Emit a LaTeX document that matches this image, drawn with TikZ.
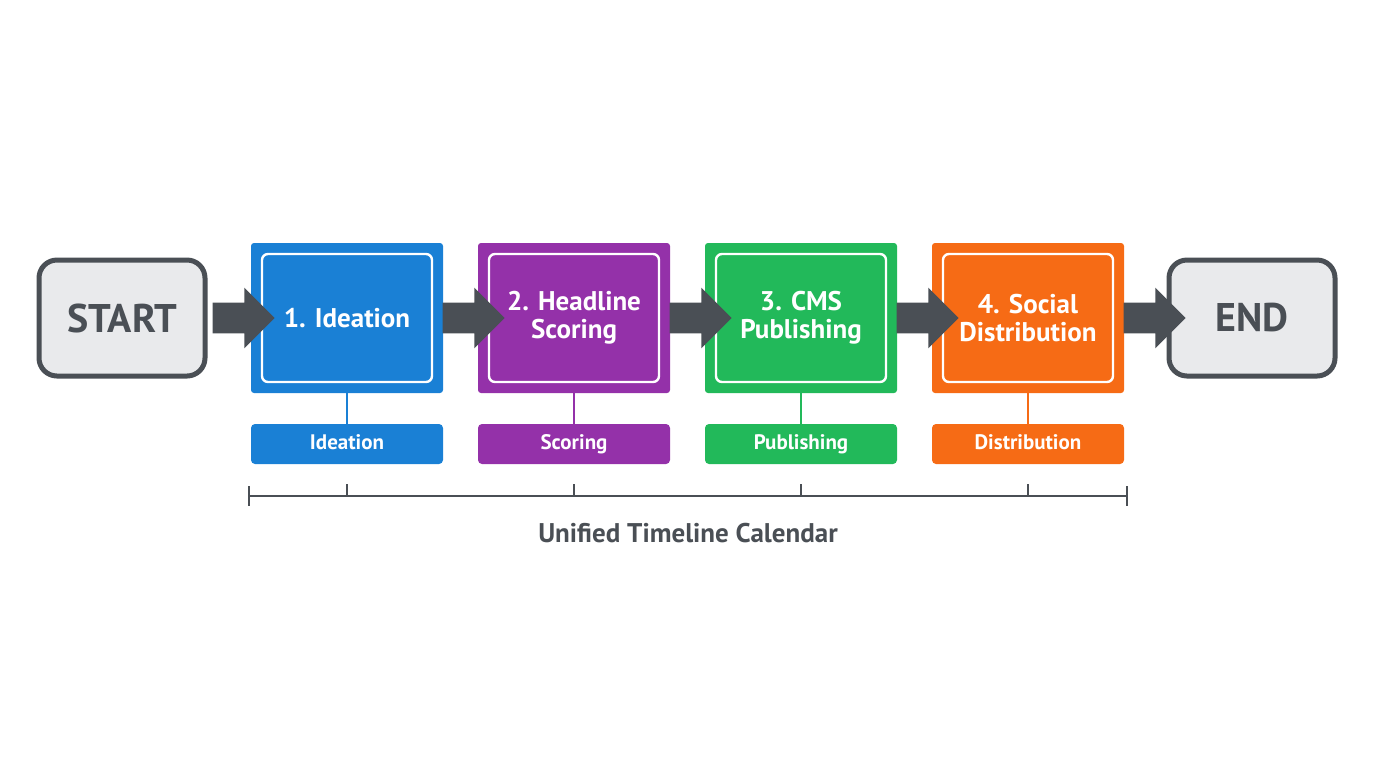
\documentclass[tikz,border=0pt]{standalone}
\usepackage{fontspec}
\setmainfont{PT Sans}
\usetikzlibrary{positioning,shapes.arrows,calc}
\definecolor{ink}{HTML}{4A4F55}
\definecolor{paper}{HTML}{E9EAEC}
\definecolor{cblue}{HTML}{1A80D5}
\definecolor{cpurple}{HTML}{9431A9}
\definecolor{cgreen}{HTML}{22B95A}
\definecolor{corange}{HTML}{F66B15}
\tikzset{
	endbox/.style={draw=ink,line width=2.5pt,fill=paper,rounded corners=9pt,
		minimum width=83pt,minimum height=58pt,font=\bfseries\fontsize{20}{22}\selectfont,text=ink},
	stepbox/.style={fill=#1,rounded corners=1.5pt,minimum width=96pt,minimum height=75pt},
	inner/.style={draw=white,line width=1.2pt,rounded corners=3pt,
		minimum width=85pt,minimum height=64pt,text=white,align=center,
		font=\bfseries\fontsize{13.5}{14}\selectfont},
	tagbox/.style={fill=#1,rounded corners=2pt,minimum width=96pt,minimum height=20pt,
		text=white,text height=8pt,text depth=2.5pt,font=\bfseries\fontsize{10.5}{12}\selectfont},
	blockarrow/.style={single arrow,fill=ink,minimum height=31pt,minimum width=30pt,
		single arrow head extend=7.5pt,inner xsep=0pt,inner ysep=7.5pt},
	link/.style={draw=#1,line width=1.2pt}
}
\begin{document}
\begin{tikzpicture}[x=0.5pt,y=-0.5pt]
	\useasboundingbox (0,0) rectangle (1376,768);
	\node[endbox] (start) at (122,318) {START};
	\node[endbox] (end) at (1252,318) {END};
	% steps
	\foreach \n/\x/\col/\txt/\tag in {1/347/cblue/{1. Ideation}/Ideation,
		2/574/cpurple/{2. Headline\\Scoring}/Scoring,
		3/801/cgreen/{3. CMS\\Publishing}/Publishing,
		4/1028/corange/{4. Social\\Distribution}/Distribution} {
		\node[stepbox=\col] (s\n) at (\x,318) {};
		\node[inner] (i\n) at (s\n) {\txt};
		\node[tagbox=\col] (t\n) at (\x,444) {\tag};
		\draw[link=\col] (s\n.south) -- (t\n.north);
		\coordinate (k\n) at (\x,484);
	}
	% arrows
	\foreach \x in {236,466,693,920,1147}
		\node[blockarrow] at (\x,318) {};
	% timeline
	\coordinate (ta) at (249,496);
	\coordinate (tb) at (1127,496);
	\draw[ink,line width=1.3pt] (ta) -- (tb);
	\draw[ink,line width=1.3pt] ($(ta)+(0,-10)$) -- ($(ta)+(0,10)$);
	\draw[ink,line width=1.3pt] ($(tb)+(0,-10)$) -- ($(tb)+(0,10)$);
	\foreach \n in {1,...,4}
		\draw[ink,line width=1.3pt] (k\n) -- ++(0,12);
	\node[text=ink,font=\bfseries\fontsize{13.5}{15}\selectfont] (cap) at (688,533) {Unified Timeline Calendar};
\end{tikzpicture}
\end{document}
